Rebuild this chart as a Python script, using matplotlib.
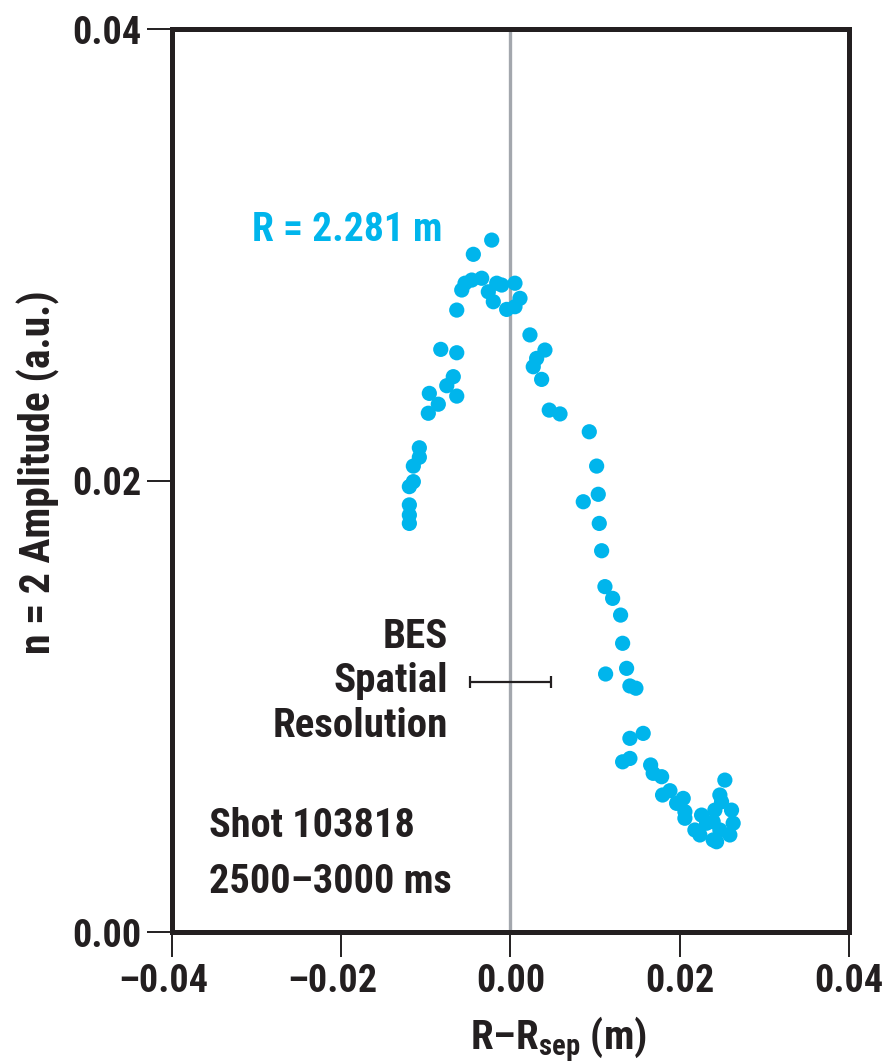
import matplotlib
matplotlib.use("Agg")
import matplotlib.pyplot as plt
from matplotlib.transforms import offset_copy

FONT = "Roboto Condensed"
plt.rcParams["font.family"] = [FONT, "DejaVu Sans"]
plt.rcParams["mathtext.fontset"] = "custom"
plt.rcParams["mathtext.rm"] = FONT + ":bold"
plt.rcParams["mathtext.bf"] = FONT + ":bold"

# n = 2 amplitude vs distance from separatrix
r_minus_rsep = [
    -0.00222, -0.00439, -0.00340, -0.00458, -0.00537, -0.00576, -0.00635,
    -0.00163, -0.00104, -0.00262, -0.00203, 0.00053, 0.00112, -0.00045,
    0.00053, 0.00230, 0.00407, 0.00309, 0.00269, 0.00368, 0.00458, 0.00585,
    -0.00824, -0.00635, -0.00676, -0.00753, -0.00635, -0.00959, -0.00853,
    -0.00971, -0.01077, -0.01077, -0.01148, -0.01148, -0.01195, -0.01195,
    -0.01195, -0.01195,
    0.00931, 0.01018, 0.01037, 0.00860, 0.01049, 0.01077, 0.01116, 0.01207,
    0.01301, 0.01325, 0.01372, 0.01124, 0.01411, 0.01482,
    0.01568, 0.01411, 0.01411, 0.01325, 0.01656, 0.01686, 0.01786, 0.01797,
    0.01884, 0.02041, 0.01963, 0.02061, 0.02061, 0.02258, 0.02179, 0.02238,
    0.02317, 0.02395, 0.02435, 0.02533, 0.02474, 0.02494, 0.02612, 0.02631,
    0.02592, 0.02415, 0.02395, 0.02474,
]
amplitude = [
    0.03065, 0.03002, 0.02896, 0.02888, 0.02874, 0.02844, 0.02755,
    0.02874, 0.02866, 0.02836, 0.02792, 0.02874, 0.02807, 0.02758,
    0.02770, 0.02645, 0.02578, 0.02541, 0.02504, 0.02448, 0.02312, 0.02295,
    0.02581, 0.02566, 0.02460, 0.02420, 0.02374, 0.02386, 0.02338,
    0.02298, 0.02145, 0.02103, 0.02064, 0.01995, 0.01973, 0.01892,
    0.01847, 0.01810,
    0.02216, 0.02064, 0.01939, 0.01906, 0.01810, 0.01689, 0.01530, 0.01478,
    0.01404, 0.01279, 0.01168, 0.01143, 0.01090, 0.01080,
    0.00880, 0.00858, 0.00769, 0.00754, 0.00740, 0.00703, 0.00688, 0.00607,
    0.00626, 0.00592, 0.00570, 0.00533, 0.00504, 0.00518, 0.00452, 0.00430,
    0.00482, 0.00408, 0.00400, 0.00673, 0.00607, 0.00577, 0.00540, 0.00482,
    0.00430, 0.00540, 0.00489, 0.00452,
]

x_ticks = [-0.04, -0.02, 0.00, 0.02, 0.04]
x_tick_labels = ["\u20130.04", "\u20130.02", "0.00", "0.02", "0.04"]
y_ticks = [0.00, 0.02, 0.04]
y_tick_labels = ["0.00", "0.02", "0.04"]

# BES spatial resolution bar
res_center = 0.0
res_half_width = 0.0048
res_level = 0.01107

CYAN = "#00b5ec"
DARK = "#231f20"

fig = plt.figure(figsize=(8.92, 10.63), dpi=100)
ax = fig.add_axes([0.1928, 0.1232, 0.7590, 0.8495])

ax.axvline(0.0, color="#a3a7ad", lw=2.4, zorder=1)
ax.scatter(r_minus_rsep, amplitude, s=120, color=CYAN, edgecolors="none", zorder=3)

ax.errorbar([res_center], [res_level], xerr=[[res_half_width], [res_half_width]],
            fmt="none", ecolor=DARK, elinewidth=1.6, capsize=4.5, capthick=1.6, zorder=2)

ax.set_xlim(-0.04, 0.04)
ax.set_ylim(0.0, 0.04)
ax.set_xticks(x_ticks)
ax.set_xticklabels(x_tick_labels)
ax.set_yticks(y_ticks)
ax.set_yticklabels(y_tick_labels)

for sp in ax.spines.values():
    sp.set_linewidth(3.6)
    sp.set_color(DARK)

ax.tick_params(axis="both", direction="out", length=18, width=1.4, color=DARK,
               labelsize=27.5, pad=4)
for lbl in ax.get_xticklabels() + ax.get_yticklabels():
    lbl.set_fontweight("bold")
    lbl.set_color(DARK)

# negative labels sit with the dash hanging to the left of the tick
for lbl, val in zip(ax.get_xticklabels(), x_ticks):
    if val < 0:
        lbl.set_transform(offset_copy(lbl.get_transform(), fig=fig, x=-9, y=0, units="dots"))

ax.set_xlabel("R\u2013R$_{\\mathbf{sep}}$ (m)",
              fontsize=29.5, fontweight="bold", color=DARK, labelpad=12)
ax.xaxis.set_label_coords(0.57, -0.092)
ax.set_ylabel("n = 2 Amplitude (a.u.)", fontsize=30, fontweight="bold",
              color=DARK, labelpad=16)
ax.yaxis.set_label_coords(-0.166, 0.509)

ax.text(-0.0305, 0.0311, "R = 2.281 m", color=CYAN, fontsize=28.5,
        fontweight="bold", ha="left", va="center")
ax.text(-0.0074, 0.0111, "BES\nSpatial\nResolution", color=DARK, fontsize=29.5,
        fontweight="bold", ha="right", va="center", linespacing=1.22)
ax.text(-0.0356, 0.0047, "Shot 103818", color=DARK, fontsize=29,
        fontweight="bold", ha="left", va="center")
ax.text(-0.0356, 0.0022, "2500\u20133000 ms", color=DARK, fontsize=29,
        fontweight="bold", ha="left", va="center")

fig.savefig("out.png", dpi=100)
